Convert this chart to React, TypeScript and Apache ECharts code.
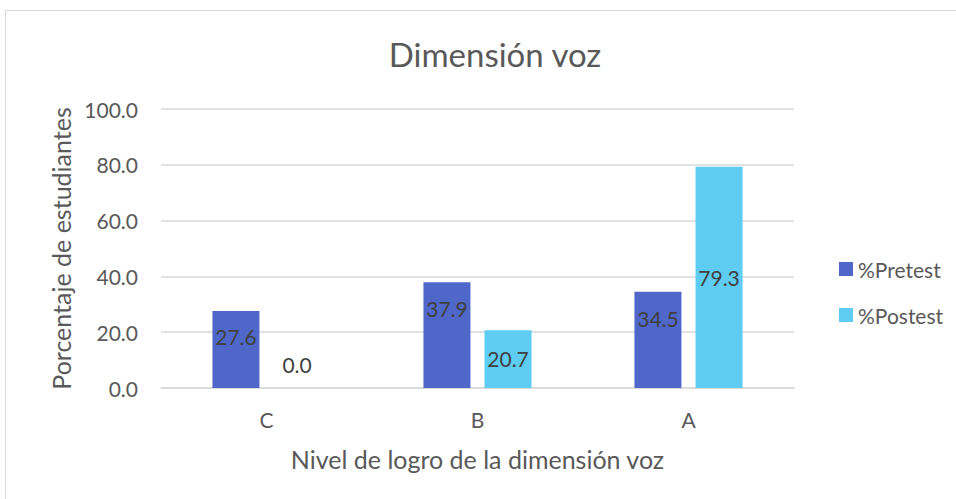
import React, { useEffect, useRef } from "react";
import * as echarts from "echarts";

const categories = ["C", "B", "A"];
const pretest = [27.6, 37.9, 34.5];
const postest = [0.0, 20.7, 79.3];
const yTicks = [0, 20, 40, 60, 80, 100];

const FONT = "Lato, 'Open Sans', sans-serif";
const GREY = "#595959";

export default function App() {
  const ref = useRef<HTMLDivElement>(null);
  useEffect(() => {
    if (!ref.current) return;
    const chart = echarts.init(ref.current, undefined, { renderer: "svg" });
    const lbl = (dy: number, position = "insideTop") => ({
      show: true,
      position,
      distance: 0,
      offset: [0, dy],
      lineHeight: 22,
      formatter: (p: any) => Number(p.value).toFixed(1),
      color: "#404040",
      fontSize: 21,
      fontFamily: FONT,
    });
    const preOffsets = [15, 15, 16];
    const postOffsets = [-13, 17, 100];
    chart.setOption({
      animation: false,
      textStyle: { fontFamily: FONT },
      title: {
        text: "Dimensión voz",
        left: 490,
        textAlign: "center",
        top: 32,
        textStyle: { fontSize: 33, fontWeight: "normal", color: GREY, fontFamily: FONT },
      },
      legend: {
        orient: "vertical",
        left: 834,
        top: 252,
        itemWidth: 14,
        itemHeight: 14,
        itemGap: 22,
        icon: "rect",
        textStyle: { fontSize: 21, lineHeight: 24, color: GREY, fontFamily: FONT },
        data: ["%Pretest", "%Postest"],
      },
      grid: { left: 161, right: 162, top: 109, bottom: 111 },
      xAxis: {
        type: "category",
        data: categories,
        axisTick: { show: false },
        axisLine: { lineStyle: { color: "#d9d9d9", width: 1.5 } },
        axisLabel: { color: GREY, fontSize: 21, margin: 21, fontFamily: FONT },
        name: "Nivel de logro de la dimensión voz",
        nameLocation: "middle",
        nameGap: 58,
        nameTextStyle: { fontSize: 25, color: GREY, fontFamily: FONT },
      },
      yAxis: {
        type: "value",
        min: yTicks[0],
        max: yTicks[yTicks.length - 1],
        interval: 20,
        axisLabel: {
          color: GREY,
          fontSize: 21,
          margin: 23,
          fontFamily: FONT,
          formatter: (v: number) => v.toFixed(1),
        },
        splitLine: { lineStyle: { color: "#d9d9d9", width: 1.5 } },
        name: "Porcentaje de estudiantes",
        nameLocation: "middle",
        nameGap: 88,
        nameTextStyle: { fontSize: 25, color: GREY, fontFamily: FONT },
      },
      series: [
        {
          name: "%Pretest",
          type: "bar",
          barWidth: 47,
          barGap: "30%",
          itemStyle: { color: "#4E67C8" },
          data: pretest.map((v, i) => ({ value: v, label: lbl(preOffsets[i]) })),
        },
        {
          name: "%Postest",
          type: "bar",
          barWidth: 47,
          itemStyle: { color: "#5ECCF3" },
          data: postest.map((v, i) => ({
            value: v,
            label: v === 0 ? lbl(postOffsets[i], "top") : lbl(postOffsets[i]),
          })),
        },
      ],
    });
    return () => chart.dispose();
  }, []);
  return (
    <div
      style={{
        position: "fixed",
        left: 0,
        top: 0,
        width: 956,
        height: 499,
        background: "#fff",
      }}
    >
      <div
        style={{
          position: "absolute",
          left: 5,
          top: 10,
          width: 960,
          height: 500,
          border: "1px solid #d9d9d9",
        }}
      />
      <div ref={ref} style={{ position: "absolute", left: 0, top: 0, width: 956, height: 499 }} />
    </div>
  );
}
